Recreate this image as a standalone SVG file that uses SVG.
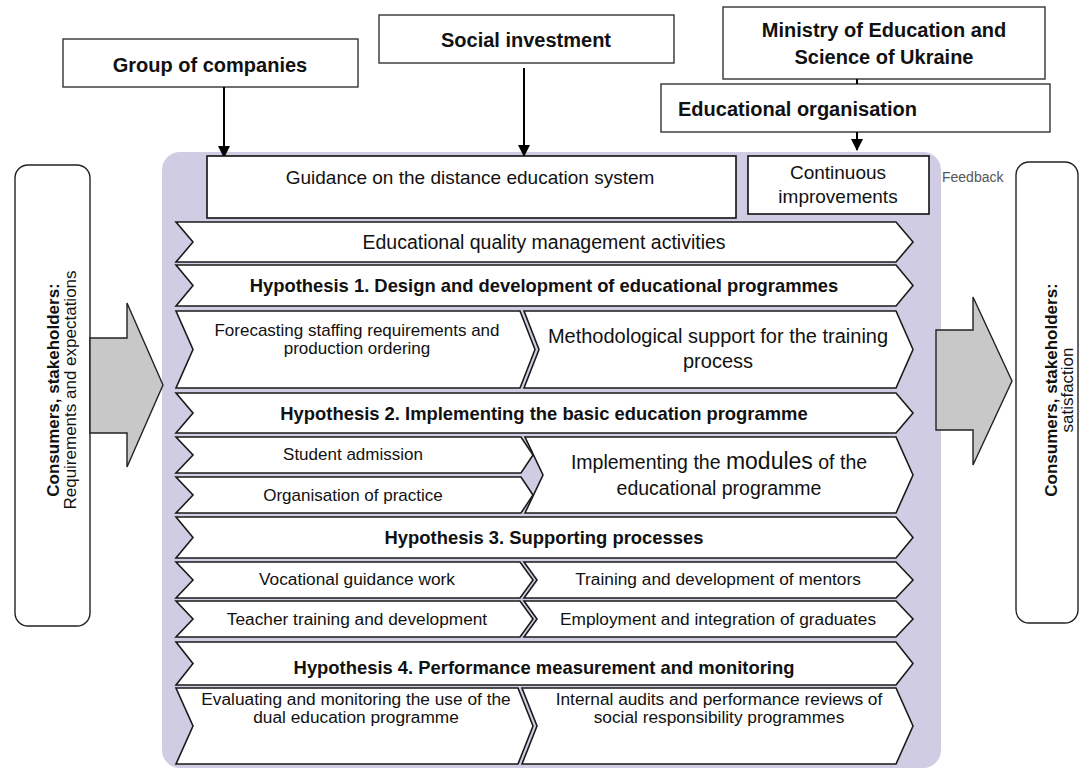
<svg xmlns="http://www.w3.org/2000/svg" width="1086" height="771" viewBox="0 0 1086 771">
  <style>
    text { font-family: "Liberation Sans", Arial, sans-serif; fill: #111; }
    .box { fill: #fff; stroke: #333; stroke-width: 1.4; }
    .inner { fill: #fff; stroke: #111; stroke-width: 1.6; }
    .chev { fill: #fff; stroke: #1a1a1a; stroke-width: 1.6; stroke-linejoin: miter; }
    .side { fill: #fff; stroke: #222; stroke-width: 1.4; }
    .block { fill: #c8c8c8; stroke: #222; stroke-width: 1.4; stroke-linejoin: miter; }
    .conn { stroke: #000; stroke-width: 2; fill: none; }
    .hb { font-weight: bold; font-size: 20px; text-anchor: middle; }
    .hb-left { font-weight: bold; font-size: 20px; text-anchor: start; }
    .hyp { font-weight: bold; font-size: 18.4px; text-anchor: middle; }
    .big { font-size: 19.5px; text-anchor: middle; }
    .mid { font-size: 19px; text-anchor: middle; }
    .lg { font-size: 20px; text-anchor: middle; }
    .sm { font-size: 17.3px; text-anchor: middle; }
    .xs { font-size: 17px; text-anchor: middle; }
    .side-b { font-size: 17px; font-weight: bold; text-anchor: middle; }
    .side-t { font-size: 17px; text-anchor: middle; }
    .note { font-size: 14px; fill: #555; }
  </style>
  <defs>
    <marker id="arrow" viewBox="0 0 12 12" refX="11" refY="6" markerWidth="12" markerHeight="12" markerUnits="userSpaceOnUse" orient="auto">
      <path d="M0,0 L12,6 L0,12 Z" fill="#000"/>
    </marker>
  </defs>

  <!-- lavender process panel -->
  <rect id="panel" x="162" y="152" width="779" height="616" rx="18" fill="#cfcce3"/>

  <!-- side stakeholder boxes with block arrows -->
  <g id="consumers-in">
    <rect class="side" x="15" y="165" width="75" height="461" rx="13"/>
    <text class="side-b" transform="translate(59,390) rotate(-90)">Consumers, stakeholders:</text>
    <text class="side-t" transform="translate(76,390) rotate(-90)">Requirements and expectations</text>
  </g>
  <g id="arrow-in">
    <polygon class="block" points="90,338 127,338 127,303 163,385 127,467 127,433 90,433"/>
  </g>
  <g id="consumers-out">
    <rect class="side" x="1016" y="162" width="62" height="461" rx="13"/>
    <text class="side-b" transform="translate(1057,390) rotate(-90)">Consumers, stakeholders:</text>
    <text class="side-t" transform="translate(1073,390) rotate(-90)">satisfaction</text>
  </g>
  <g id="arrow-out">
    <polygon class="block" points="936,330 973,330 973,297 1012,381 973,465 973,430 936,430"/>
  </g>

  <!-- top input boxes -->
  <g id="group-of-companies">
    <rect class="box" x="63" y="39" width="295" height="48"/>
    <text class="hb" x="210" y="72">Group of companies</text>
  </g>
  <g id="social-investment">
    <rect class="box" x="379" y="15" width="295" height="48"/>
    <text class="hb" x="526" y="47">Social investment</text>
  </g>
  <g id="ministry">
    <rect class="box" x="723" y="7" width="322" height="72"/>
    <text class="hb" x="884" y="37">Ministry of Education and</text>
    <text class="hb" x="884" y="64">Science of Ukraine</text>
  </g>
  <g id="educational-organisation">
    <rect class="box" x="661" y="84" width="389" height="48"/>
    <text class="hb-left" x="678" y="116">Educational organisation</text>
  </g>

  <!-- connectors -->
  <g id="connectors">
    <line class="conn" x1="224" y1="87" x2="224" y2="157" marker-end="url(#arrow)"/>
    <line class="conn" x1="524" y1="68" x2="524" y2="156" marker-end="url(#arrow)"/>
    <line class="conn" x1="857" y1="79" x2="857" y2="84"/>
    <line class="conn" x1="857" y1="132" x2="857" y2="150" marker-end="url(#arrow)"/>
  </g>

  <!-- guidance and improvement boxes -->
  <g id="guidance">
    <rect class="inner" x="207" y="156" width="529" height="62"/>
    <text class="mid" x="470" y="184">Guidance on the distance education system</text>
  </g>
  <g id="continuous-improvements">
    <rect class="inner" x="748" y="156" width="181" height="58"/>
    <text class="mid" x="838" y="179">Continuous</text>
    <text class="mid" x="838" y="203">improvements</text>
  </g>
  <g id="feedback">
    <text class="note" x="942" y="182">Feedback</text>
  </g>

  <!-- process rows -->
  <g id="quality-activities">
    <polygon class="chev" points="176,222 896,222 913,242 896,262 176,262 193,242"/>
    <text class="big" x="544" y="249">Educational quality management activities</text>
  </g>
  <g id="hypothesis-1">
    <polygon class="chev" points="176,265 896,265 913,285.5 896,306 176,306 193,285.5"/>
    <text class="hyp" x="544" y="292">Hypothesis 1. Design and development of educational programmes</text>
  </g>
  <g id="forecasting">
    <polygon class="chev" points="176,311 520,311 535,349.5 520,388 176,388 193,349.5"/>
    <text class="xs" x="357" y="336">Forecasting staffing requirements and</text>
    <text class="xs" x="357" y="354">production ordering</text>
  </g>
  <g id="methodological-support">
    <polygon class="chev" points="524,311 896,311 913,349.5 896,388 524,388 539,349.5"/>
    <text class="lg" x="718" y="343">Methodological support for the training</text>
    <text class="lg" x="718" y="368">process</text>
  </g>
  <g id="hypothesis-2">
    <polygon class="chev" points="176,393 896,393 913,413 896,433 176,433 193,413"/>
    <text class="hyp" x="544" y="420">Hypothesis 2. Implementing the basic education programme</text>
  </g>
  <g id="student-admission">
    <polygon class="chev" points="176,437 521,437 533,455 521,473 176,473 193,455"/>
    <text class="xs" x="353" y="460">Student admission</text>
  </g>
  <g id="organisation-of-practice">
    <polygon class="chev" points="176,477 521,477 533,495 521,513 176,513 193,495"/>
    <text class="xs" x="353" y="501">Organisation of practice</text>
  </g>
  <g id="implementing-modules">
    <polygon class="chev" points="525,437 896,437 913,475 896,513 525,513 543,475"/>
    <text class="big" x="719" y="469">Implementing the <tspan style="font-size:23px">modules</tspan> of the</text>
    <text class="big" x="719" y="495">educational programme</text>
  </g>
  <g id="hypothesis-3">
    <polygon class="chev" points="176,517 896,517 913,537.5 896,558 176,558 193,537.5"/>
    <text class="hyp" x="544" y="544">Hypothesis 3. Supporting processes</text>
  </g>
  <g id="vocational-guidance">
    <polygon class="chev" points="176,562 520,562 533,580 520,598 176,598 193,580"/>
    <text class="sm" x="357" y="585">Vocational guidance work</text>
  </g>
  <g id="mentors">
    <polygon class="chev" points="524,562 896,562 913,580 896,598 524,598 537,580"/>
    <text class="sm" x="718" y="585">Training and development of mentors</text>
  </g>
  <g id="teacher-training">
    <polygon class="chev" points="176,601 520,601 533,619 520,637 176,637 193,619"/>
    <text class="sm" x="357" y="625">Teacher training and development</text>
  </g>
  <g id="graduates">
    <polygon class="chev" points="524,601 896,601 913,619 896,637 524,637 537,619"/>
    <text class="sm" x="718" y="625">Employment and integration of graduates</text>
  </g>
  <g id="hypothesis-4">
    <polygon class="chev" points="176,642 896,642 913,663.5 896,685 176,685 193,663.5"/>
    <text class="hyp" x="544" y="674">Hypothesis 4. Performance measurement and monitoring</text>
  </g>
  <g id="evaluating">
    <polygon class="chev" points="176,688 518,688 533,726 518,764 176,764 193,726"/>
    <text class="sm" x="356" y="705">Evaluating and monitoring the use of the</text>
    <text class="sm" x="356" y="723">dual education programme</text>
  </g>
  <g id="internal-audits">
    <polygon class="chev" points="522,688 896,688 913,726 896,764 522,764 537,726"/>
    <text class="sm" x="719" y="705">Internal audits and performance reviews of</text>
    <text class="sm" x="719" y="723">social responsibility programmes</text>
  </g>
</svg>
